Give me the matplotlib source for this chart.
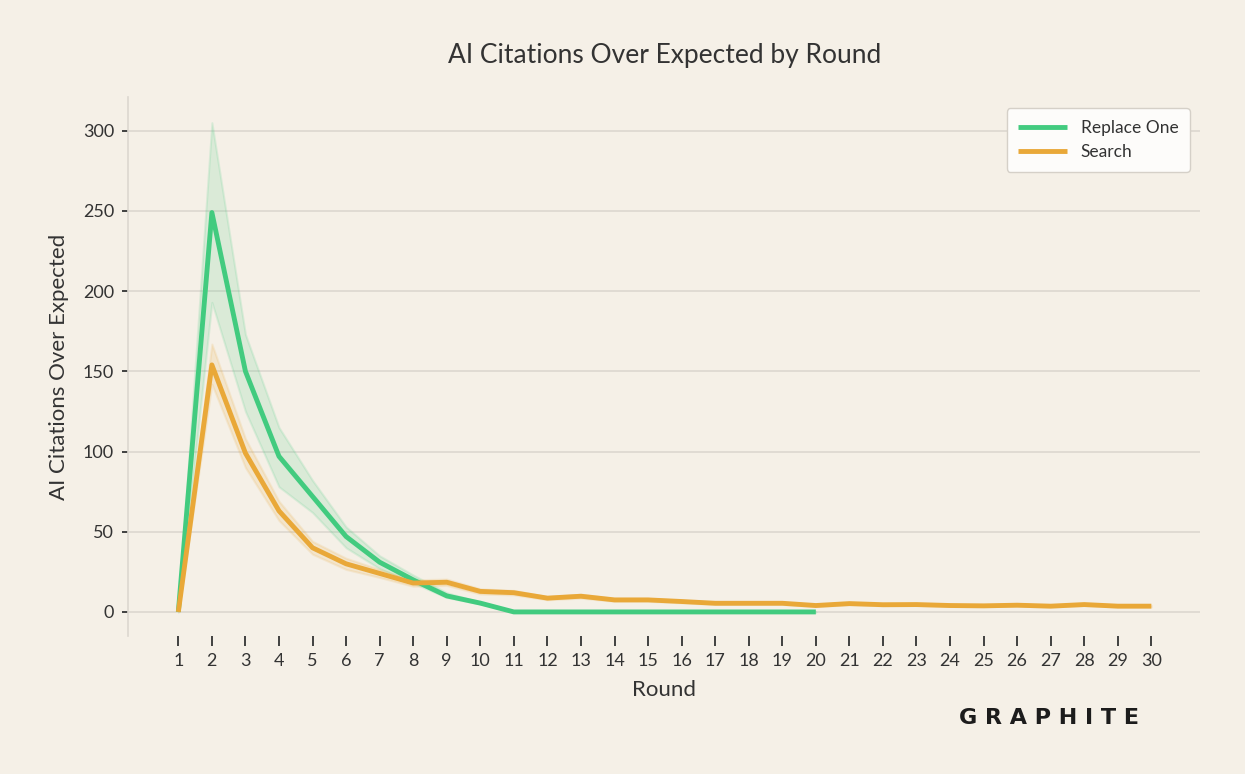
import matplotlib
matplotlib.use("Agg")
import matplotlib.pyplot as plt

# rounds
rounds_replace = list(range(1, 21))
rounds_search = list(range(1, 31))

# mean values
replace_one = [0, 249, 150, 97, 72, 47, 31, 20, 10, 5.5, 0, 0, 0, 0, 0, 0, 0, 0, 0, 0]
replace_lo = [0, 193, 125, 78, 62, 40, 27, 18, 9, 5, 0, 0, 0, 0, 0, 0, 0, 0, 0, 0]
replace_hi = [0, 305, 173, 115, 82, 53, 35, 23, 12, 6, 0, 0, 0, 0, 0, 0, 0, 0, 0, 0]

search = [0, 154, 99, 63, 40, 30, 24, 18, 18.5, 12.8, 12, 8.6, 9.8, 7.5, 7.5, 6.5,
          5.4, 5.4, 5.4, 4, 5.2, 4.5, 4.6, 4, 3.8, 4.2, 3.6, 4.6, 3.6, 3.6]
search_lo = [0, 142, 90, 57, 36, 26.5, 21.5, 16, 16.5, 11.2, 10.6, 7.6, 8.6, 6.6, 6.6, 5.7,
             4.7, 4.7, 4.7, 3.4, 4.5, 3.9, 4.0, 3.4, 3.3, 3.6, 3.1, 4.0, 3.1, 3.1]
search_hi = [0, 167, 108, 69, 44, 33.5, 26.5, 20, 20.5, 14.4, 13.4, 9.6, 11, 8.4, 8.4, 7.3,
             6.1, 6.1, 6.1, 4.6, 5.9, 5.1, 5.2, 4.6, 4.3, 4.8, 4.1, 5.2, 4.1, 4.1]

bg = "#f5f0e7"
green = "#42cb7f"
orange = "#e9a838"
text_col = "#333333"

plt.rcParams['font.family'] = ['Lato', 'DejaVu Sans']

fig = plt.figure(figsize=(12.45, 7.74), dpi=100, facecolor=bg)
ax = fig.add_axes([128/1245, 1 - 636/774, (1200-128)/1245, (636-97)/774])
ax.set_facecolor(bg)

ax.fill_between(rounds_replace, replace_lo, replace_hi, color=green, alpha=0.15, lw=1.5,
                edgecolor=green)
ax.fill_between(rounds_search, search_lo, search_hi, color=orange, alpha=0.15, lw=1.5,
                edgecolor=orange)
ax.plot(rounds_replace, replace_one, color=green, lw=3.5, label="Replace One",
        solid_capstyle='butt')
ax.plot(rounds_search, search, color=orange, lw=3.5, label="Search",
        solid_capstyle='butt')

ax.set_xlim(-0.5, 31.45)
ax.set_ylim(-15, 321)
ax.set_xticks(rounds_search)
ax.set_yticks([0, 50, 100, 150, 200, 250, 300])
ax.grid(axis='y', color="#dcd7cf", lw=1.2)
ax.set_axisbelow(True)

for s in ['top', 'right', 'bottom']:
    ax.spines[s].set_visible(False)
ax.spines['left'].set_color("#dcd7cf")
ax.spines['left'].set_linewidth(1.2)

ax.tick_params(axis='x', length=7, width=1.3, color="#333333", labelsize=13,
               labelcolor=text_col, pad=5)
ax.tick_params(axis='y', length=4, width=1.3, color="#333333", labelsize=13,
               labelcolor=text_col, pad=6)

ax.set_xlabel("Round", fontsize=16, color=text_col, labelpad=8)
ax.set_ylabel("AI Citations Over Expected", fontsize=16, color=text_col, labelpad=10)
fig.text(665/1245, 1 - 56/774, "AI Citations Over Expected by Round", fontsize=19,
         color=text_col, ha='center', va='center')

leg = ax.legend(loc='upper right', fontsize=12.5, frameon=True, handlelength=2.8,
                borderpad=0.65, bbox_to_anchor=(0.9985, 0.995))
leg.get_frame().set_facecolor("#fdfcfa")
leg.get_frame().set_edgecolor("#d5d0c8")
leg.get_frame().set_alpha(1)
for t in leg.get_texts():
    t.set_color(text_col)

fig.text(1049/1245, 1 - 718/774, "G R A P H I T E", fontsize=16, fontweight='heavy',
         color="#1c1c1c", ha='center', va='center', family='DejaVu Sans')

fig.savefig("out.png", dpi=100, facecolor=bg)
